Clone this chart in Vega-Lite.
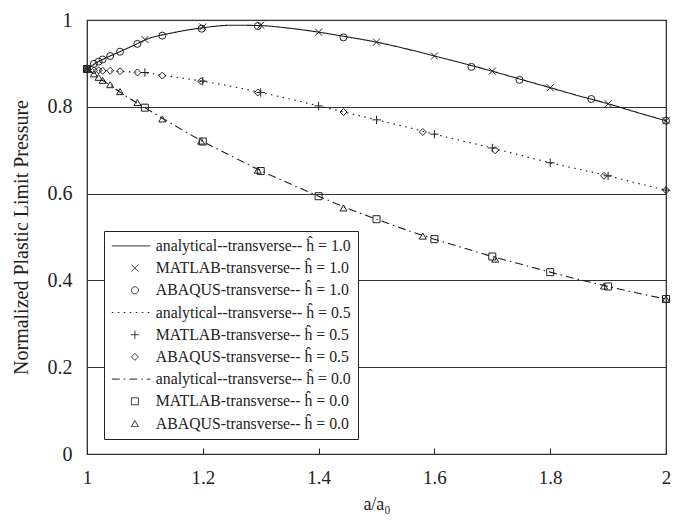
{
  "$schema": "https://vega.github.io/schema/vega-lite/v6.json",
  "width": 579,
  "height": 434,
  "autosize": {"type": "none"},
  "padding": {"left": 87, "top": 20, "right": 16, "bottom": 69},
  "background": "white",
  "config": {
    "font": "Liberation Serif",
    "view": {"stroke": "#222", "strokeWidth": 1.2},
    "axis": {"labelFont": "Liberation Serif", "titleFont": "Liberation Serif", "labelColor": "#222", "titleColor": "#222", "titleFontWeight": "normal", "labelFlush": false}
  },
  "datasets": {
    "curves": [
      {"x": 1.00, "y": 0.887, "series": "analytical--transverse-- ĥ = 1.0"},
      {"x": 1.01, "y": 0.896, "series": "analytical--transverse-- ĥ = 1.0"},
      {"x": 1.02, "y": 0.904, "series": "analytical--transverse-- ĥ = 1.0"},
      {"x": 1.04, "y": 0.917, "series": "analytical--transverse-- ĥ = 1.0"},
      {"x": 1.06, "y": 0.929, "series": "analytical--transverse-- ĥ = 1.0"},
      {"x": 1.08, "y": 0.941, "series": "analytical--transverse-- ĥ = 1.0"},
      {"x": 1.10, "y": 0.954, "series": "analytical--transverse-- ĥ = 1.0"},
      {"x": 1.15, "y": 0.971, "series": "analytical--transverse-- ĥ = 1.0"},
      {"x": 1.20, "y": 0.982, "series": "analytical--transverse-- ĥ = 1.0"},
      {"x": 1.25, "y": 0.988, "series": "analytical--transverse-- ĥ = 1.0"},
      {"x": 1.30, "y": 0.987, "series": "analytical--transverse-- ĥ = 1.0"},
      {"x": 1.35, "y": 0.981, "series": "analytical--transverse-- ĥ = 1.0"},
      {"x": 1.40, "y": 0.972, "series": "analytical--transverse-- ĥ = 1.0"},
      {"x": 1.45, "y": 0.961, "series": "analytical--transverse-- ĥ = 1.0"},
      {"x": 1.50, "y": 0.949, "series": "analytical--transverse-- ĥ = 1.0"},
      {"x": 1.55, "y": 0.934, "series": "analytical--transverse-- ĥ = 1.0"},
      {"x": 1.60, "y": 0.917, "series": "analytical--transverse-- ĥ = 1.0"},
      {"x": 1.65, "y": 0.900, "series": "analytical--transverse-- ĥ = 1.0"},
      {"x": 1.70, "y": 0.882, "series": "analytical--transverse-- ĥ = 1.0"},
      {"x": 1.75, "y": 0.863, "series": "analytical--transverse-- ĥ = 1.0"},
      {"x": 1.80, "y": 0.844, "series": "analytical--transverse-- ĥ = 1.0"},
      {"x": 1.85, "y": 0.825, "series": "analytical--transverse-- ĥ = 1.0"},
      {"x": 1.90, "y": 0.807, "series": "analytical--transverse-- ĥ = 1.0"},
      {"x": 1.95, "y": 0.787, "series": "analytical--transverse-- ĥ = 1.0"},
      {"x": 2.00, "y": 0.768, "series": "analytical--transverse-- ĥ = 1.0"},
      {"x": 1.00, "y": 0.887, "series": "analytical--transverse-- ĥ = 0.5"},
      {"x": 1.02, "y": 0.884, "series": "analytical--transverse-- ĥ = 0.5"},
      {"x": 1.05, "y": 0.882, "series": "analytical--transverse-- ĥ = 0.5"},
      {"x": 1.10, "y": 0.878, "series": "analytical--transverse-- ĥ = 0.5"},
      {"x": 1.15, "y": 0.869, "series": "analytical--transverse-- ĥ = 0.5"},
      {"x": 1.20, "y": 0.859, "series": "analytical--transverse-- ĥ = 0.5"},
      {"x": 1.25, "y": 0.847, "series": "analytical--transverse-- ĥ = 0.5"},
      {"x": 1.30, "y": 0.833, "series": "analytical--transverse-- ĥ = 0.5"},
      {"x": 1.35, "y": 0.818, "series": "analytical--transverse-- ĥ = 0.5"},
      {"x": 1.40, "y": 0.802, "series": "analytical--transverse-- ĥ = 0.5"},
      {"x": 1.45, "y": 0.786, "series": "analytical--transverse-- ĥ = 0.5"},
      {"x": 1.50, "y": 0.770, "series": "analytical--transverse-- ĥ = 0.5"},
      {"x": 1.55, "y": 0.754, "series": "analytical--transverse-- ĥ = 0.5"},
      {"x": 1.60, "y": 0.737, "series": "analytical--transverse-- ĥ = 0.5"},
      {"x": 1.65, "y": 0.721, "series": "analytical--transverse-- ĥ = 0.5"},
      {"x": 1.70, "y": 0.705, "series": "analytical--transverse-- ĥ = 0.5"},
      {"x": 1.75, "y": 0.688, "series": "analytical--transverse-- ĥ = 0.5"},
      {"x": 1.80, "y": 0.671, "series": "analytical--transverse-- ĥ = 0.5"},
      {"x": 1.85, "y": 0.656, "series": "analytical--transverse-- ĥ = 0.5"},
      {"x": 1.90, "y": 0.641, "series": "analytical--transverse-- ĥ = 0.5"},
      {"x": 1.95, "y": 0.624, "series": "analytical--transverse-- ĥ = 0.5"},
      {"x": 2.00, "y": 0.608, "series": "analytical--transverse-- ĥ = 0.5"},
      {"x": 1.00, "y": 0.887, "series": "analytical--transverse-- ĥ = 0.0"},
      {"x": 1.01, "y": 0.877, "series": "analytical--transverse-- ĥ = 0.0"},
      {"x": 1.02, "y": 0.867, "series": "analytical--transverse-- ĥ = 0.0"},
      {"x": 1.04, "y": 0.850, "series": "analytical--transverse-- ĥ = 0.0"},
      {"x": 1.06, "y": 0.831, "series": "analytical--transverse-- ĥ = 0.0"},
      {"x": 1.08, "y": 0.814, "series": "analytical--transverse-- ĥ = 0.0"},
      {"x": 1.10, "y": 0.798, "series": "analytical--transverse-- ĥ = 0.0"},
      {"x": 1.15, "y": 0.758, "series": "analytical--transverse-- ĥ = 0.0"},
      {"x": 1.20, "y": 0.720, "series": "analytical--transverse-- ĥ = 0.0"},
      {"x": 1.25, "y": 0.686, "series": "analytical--transverse-- ĥ = 0.0"},
      {"x": 1.30, "y": 0.653, "series": "analytical--transverse-- ĥ = 0.0"},
      {"x": 1.35, "y": 0.623, "series": "analytical--transverse-- ĥ = 0.0"},
      {"x": 1.40, "y": 0.594, "series": "analytical--transverse-- ĥ = 0.0"},
      {"x": 1.45, "y": 0.566, "series": "analytical--transverse-- ĥ = 0.0"},
      {"x": 1.50, "y": 0.541, "series": "analytical--transverse-- ĥ = 0.0"},
      {"x": 1.55, "y": 0.517, "series": "analytical--transverse-- ĥ = 0.0"},
      {"x": 1.60, "y": 0.495, "series": "analytical--transverse-- ĥ = 0.0"},
      {"x": 1.65, "y": 0.475, "series": "analytical--transverse-- ĥ = 0.0"},
      {"x": 1.70, "y": 0.455, "series": "analytical--transverse-- ĥ = 0.0"},
      {"x": 1.75, "y": 0.437, "series": "analytical--transverse-- ĥ = 0.0"},
      {"x": 1.80, "y": 0.419, "series": "analytical--transverse-- ĥ = 0.0"},
      {"x": 1.85, "y": 0.402, "series": "analytical--transverse-- ĥ = 0.0"},
      {"x": 1.90, "y": 0.386, "series": "analytical--transverse-- ĥ = 0.0"},
      {"x": 1.95, "y": 0.371, "series": "analytical--transverse-- ĥ = 0.0"},
      {"x": 2.00, "y": 0.357, "series": "analytical--transverse-- ĥ = 0.0"}
    ],
    "points": [
      {"x": 1.0, "y": 0.887, "series": "MATLAB-transverse-- ĥ = 1.0"},
      {"x": 1.1, "y": 0.955, "series": "MATLAB-transverse-- ĥ = 1.0"},
      {"x": 1.2, "y": 0.984, "series": "MATLAB-transverse-- ĥ = 1.0"},
      {"x": 1.3, "y": 0.988, "series": "MATLAB-transverse-- ĥ = 1.0"},
      {"x": 1.4, "y": 0.972, "series": "MATLAB-transverse-- ĥ = 1.0"},
      {"x": 1.5, "y": 0.949, "series": "MATLAB-transverse-- ĥ = 1.0"},
      {"x": 1.6, "y": 0.917, "series": "MATLAB-transverse-- ĥ = 1.0"},
      {"x": 1.7, "y": 0.882, "series": "MATLAB-transverse-- ĥ = 1.0"},
      {"x": 1.8, "y": 0.844, "series": "MATLAB-transverse-- ĥ = 1.0"},
      {"x": 1.9, "y": 0.807, "series": "MATLAB-transverse-- ĥ = 1.0"},
      {"x": 2.0, "y": 0.768, "series": "MATLAB-transverse-- ĥ = 1.0"},
      {"x": 1.0, "y": 0.887, "series": "ABAQUS-transverse-- ĥ = 1.0"},
      {"x": 1.012, "y": 0.899, "series": "ABAQUS-transverse-- ĥ = 1.0"},
      {"x": 1.02, "y": 0.904, "series": "ABAQUS-transverse-- ĥ = 1.0"},
      {"x": 1.027, "y": 0.909, "series": "ABAQUS-transverse-- ĥ = 1.0"},
      {"x": 1.04, "y": 0.917, "series": "ABAQUS-transverse-- ĥ = 1.0"},
      {"x": 1.057, "y": 0.927, "series": "ABAQUS-transverse-- ĥ = 1.0"},
      {"x": 1.087, "y": 0.945, "series": "ABAQUS-transverse-- ĥ = 1.0"},
      {"x": 1.13, "y": 0.964, "series": "ABAQUS-transverse-- ĥ = 1.0"},
      {"x": 1.198, "y": 0.980, "series": "ABAQUS-transverse-- ĥ = 1.0"},
      {"x": 1.295, "y": 0.986, "series": "ABAQUS-transverse-- ĥ = 1.0"},
      {"x": 1.443, "y": 0.960, "series": "ABAQUS-transverse-- ĥ = 1.0"},
      {"x": 1.664, "y": 0.892, "series": "ABAQUS-transverse-- ĥ = 1.0"},
      {"x": 1.747, "y": 0.862, "series": "ABAQUS-transverse-- ĥ = 1.0"},
      {"x": 1.871, "y": 0.818, "series": "ABAQUS-transverse-- ĥ = 1.0"},
      {"x": 2.0, "y": 0.768, "series": "ABAQUS-transverse-- ĥ = 1.0"},
      {"x": 1.0, "y": 0.887, "series": "MATLAB-transverse-- ĥ = 0.5"},
      {"x": 1.1, "y": 0.879, "series": "MATLAB-transverse-- ĥ = 0.5"},
      {"x": 1.2, "y": 0.859, "series": "MATLAB-transverse-- ĥ = 0.5"},
      {"x": 1.3, "y": 0.833, "series": "MATLAB-transverse-- ĥ = 0.5"},
      {"x": 1.4, "y": 0.802, "series": "MATLAB-transverse-- ĥ = 0.5"},
      {"x": 1.5, "y": 0.770, "series": "MATLAB-transverse-- ĥ = 0.5"},
      {"x": 1.6, "y": 0.737, "series": "MATLAB-transverse-- ĥ = 0.5"},
      {"x": 1.7, "y": 0.705, "series": "MATLAB-transverse-- ĥ = 0.5"},
      {"x": 1.8, "y": 0.671, "series": "MATLAB-transverse-- ĥ = 0.5"},
      {"x": 1.9, "y": 0.641, "series": "MATLAB-transverse-- ĥ = 0.5"},
      {"x": 2.0, "y": 0.608, "series": "MATLAB-transverse-- ĥ = 0.5"},
      {"x": 1.0, "y": 0.887, "series": "ABAQUS-transverse-- ĥ = 0.5"},
      {"x": 1.012, "y": 0.884, "series": "ABAQUS-transverse-- ĥ = 0.5"},
      {"x": 1.02, "y": 0.884, "series": "ABAQUS-transverse-- ĥ = 0.5"},
      {"x": 1.027, "y": 0.883, "series": "ABAQUS-transverse-- ĥ = 0.5"},
      {"x": 1.04, "y": 0.883, "series": "ABAQUS-transverse-- ĥ = 0.5"},
      {"x": 1.057, "y": 0.882, "series": "ABAQUS-transverse-- ĥ = 0.5"},
      {"x": 1.087, "y": 0.879, "series": "ABAQUS-transverse-- ĥ = 0.5"},
      {"x": 1.13, "y": 0.872, "series": "ABAQUS-transverse-- ĥ = 0.5"},
      {"x": 1.197, "y": 0.859, "series": "ABAQUS-transverse-- ĥ = 0.5"},
      {"x": 1.295, "y": 0.833, "series": "ABAQUS-transverse-- ĥ = 0.5"},
      {"x": 1.443, "y": 0.788, "series": "ABAQUS-transverse-- ĥ = 0.5"},
      {"x": 1.58, "y": 0.742, "series": "ABAQUS-transverse-- ĥ = 0.5"},
      {"x": 1.705, "y": 0.700, "series": "ABAQUS-transverse-- ĥ = 0.5"},
      {"x": 1.893, "y": 0.641, "series": "ABAQUS-transverse-- ĥ = 0.5"},
      {"x": 2.0, "y": 0.608, "series": "ABAQUS-transverse-- ĥ = 0.5"},
      {"x": 1.0, "y": 0.887, "series": "MATLAB-transverse-- ĥ = 0.0"},
      {"x": 1.1, "y": 0.798, "series": "MATLAB-transverse-- ĥ = 0.0"},
      {"x": 1.2, "y": 0.720, "series": "MATLAB-transverse-- ĥ = 0.0"},
      {"x": 1.3, "y": 0.652, "series": "MATLAB-transverse-- ĥ = 0.0"},
      {"x": 1.4, "y": 0.594, "series": "MATLAB-transverse-- ĥ = 0.0"},
      {"x": 1.5, "y": 0.541, "series": "MATLAB-transverse-- ĥ = 0.0"},
      {"x": 1.6, "y": 0.495, "series": "MATLAB-transverse-- ĥ = 0.0"},
      {"x": 1.7, "y": 0.455, "series": "MATLAB-transverse-- ĥ = 0.0"},
      {"x": 1.8, "y": 0.419, "series": "MATLAB-transverse-- ĥ = 0.0"},
      {"x": 1.9, "y": 0.386, "series": "MATLAB-transverse-- ĥ = 0.0"},
      {"x": 2.0, "y": 0.357, "series": "MATLAB-transverse-- ĥ = 0.0"},
      {"x": 1.0, "y": 0.887, "series": "ABAQUS-transverse-- ĥ = 0.0"},
      {"x": 1.012, "y": 0.876, "series": "ABAQUS-transverse-- ĥ = 0.0"},
      {"x": 1.02, "y": 0.868, "series": "ABAQUS-transverse-- ĥ = 0.0"},
      {"x": 1.027, "y": 0.861, "series": "ABAQUS-transverse-- ĥ = 0.0"},
      {"x": 1.04, "y": 0.851, "series": "ABAQUS-transverse-- ĥ = 0.0"},
      {"x": 1.057, "y": 0.835, "series": "ABAQUS-transverse-- ĥ = 0.0"},
      {"x": 1.087, "y": 0.810, "series": "ABAQUS-transverse-- ĥ = 0.0"},
      {"x": 1.13, "y": 0.772, "series": "ABAQUS-transverse-- ĥ = 0.0"},
      {"x": 1.197, "y": 0.721, "series": "ABAQUS-transverse-- ĥ = 0.0"},
      {"x": 1.295, "y": 0.654, "series": "ABAQUS-transverse-- ĥ = 0.0"},
      {"x": 1.443, "y": 0.567, "series": "ABAQUS-transverse-- ĥ = 0.0"},
      {"x": 1.58, "y": 0.502, "series": "ABAQUS-transverse-- ĥ = 0.0"},
      {"x": 1.705, "y": 0.449, "series": "ABAQUS-transverse-- ĥ = 0.0"},
      {"x": 1.893, "y": 0.387, "series": "ABAQUS-transverse-- ĥ = 0.0"},
      {"x": 2.0, "y": 0.357, "series": "ABAQUS-transverse-- ĥ = 0.0"}
    ]
  },
  "encoding": {
    "x": {"field": "x", "type": "quantitative", "scale": {"domain": [1, 2], "nice": false, "zero": false},
      "axis": {"title": "a/a₀", "values": [1, 1.2, 1.4, 1.6, 1.8, 2], "format": ".1~f", "grid": false, "domain": false, "tickSize": -6, "tickColor": "#222", "labelFontSize": 19, "labelPadding": 20, "titleFontSize": 18, "titlePadding": 8}},
    "y": {"field": "y", "type": "quantitative", "scale": {"domain": [0, 1], "nice": false},
      "axis": {"title": "Normalized Plastic Limit Pressure", "values": [0, 0.2, 0.4, 0.6, 0.8, 1], "format": ".1~f", "grid": true, "gridColor": "#333", "gridWidth": 1, "gridOpacity": 1, "domain": false, "ticks": false, "labelPadding": 15, "labelFontSize": 20, "titleFontSize": 20, "titlePadding": 16}}
  },
  "layer": [
    {
      "data": {"name": "curves"},
      "mark": {"type": "line", "interpolate": "monotone", "color": "#1a1a1a", "strokeWidth": 1.1},
      "encoding": {
        "strokeDash": {"field": "series", "type": "nominal",
          "scale": {
            "domain": ["analytical--transverse-- ĥ = 1.0", "MATLAB-transverse-- ĥ = 1.0", "ABAQUS-transverse-- ĥ = 1.0", "analytical--transverse-- ĥ = 0.5", "MATLAB-transverse-- ĥ = 0.5", "ABAQUS-transverse-- ĥ = 0.5", "analytical--transverse-- ĥ = 0.0", "MATLAB-transverse-- ĥ = 0.0", "ABAQUS-transverse-- ĥ = 0.0"],
            "range": [[1, 0], [1, 0], [1, 0], [1.5, 4.5], [1, 0], [1, 0], [8, 4, 1.5, 4], [1, 0], [1, 0]]
          },
          "legend": {"title": null, "orient": "none", "legendX": 17, "legendY": 211, "strokeColor": "#222", "fillColor": "white", "padding": 7, "labelFont": "Liberation Serif", "labelFontSize": 15.8, "labelColor": "#222", "labelOffset": 13, "symbolOffset": 16, "rowPadding": 5.2, "symbolSize": 49, "symbolStrokeColor": "#222", "symbolStrokeWidth": 1, "labelLimit": 400}
        }
      }
    },
    {
      "data": {"name": "points"},
      "mark": {"type": "point", "filled": false, "color": "#222", "strokeWidth": 1, "size": 49, "opacity": 1},
      "encoding": {
        "shape": {"field": "series", "type": "nominal",
          "scale": {
            "domain": ["analytical--transverse-- ĥ = 1.0", "MATLAB-transverse-- ĥ = 1.0", "ABAQUS-transverse-- ĥ = 1.0", "analytical--transverse-- ĥ = 0.5", "MATLAB-transverse-- ĥ = 0.5", "ABAQUS-transverse-- ĥ = 0.5", "analytical--transverse-- ĥ = 0.0", "MATLAB-transverse-- ĥ = 0.0", "ABAQUS-transverse-- ĥ = 0.0"],
            "range": ["M-6.6,0H4.4", "M-1,-1L1,1M-1,1L1,-1", "circle", "M-6.6,0H4.4", "M-1.2,0H1.2M0,-1.2V1.2", "diamond", "M-6.6,0H4.4", "square", "triangle-up"]
          },
          "legend": {"title": null, "orient": "none", "legendX": 17, "legendY": 211, "strokeColor": "#222", "fillColor": "white", "padding": 7, "labelFont": "Liberation Serif", "labelFontSize": 15.8, "labelColor": "#222", "labelOffset": 13, "symbolOffset": 16, "rowPadding": 5.2, "symbolSize": 49, "symbolStrokeColor": "#222", "symbolStrokeWidth": 1, "labelLimit": 400}
        }
      }
    }
  ]
}
